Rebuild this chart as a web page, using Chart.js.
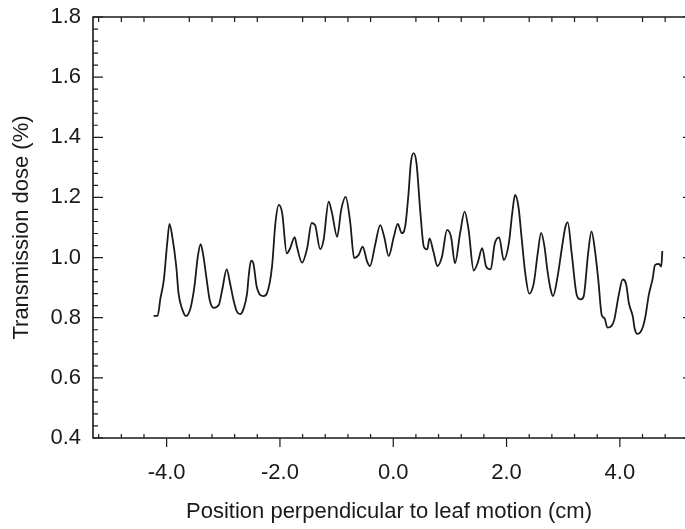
<!DOCTYPE html>
<html>
<head>
<meta charset="utf-8">
<script src="https://cdn.jsdelivr.net/npm/chart.js@4.4.1/dist/chart.umd.min.js"></script>
<style>
  html, body { margin: 0; padding: 0; background: #fff; overflow: hidden; }
  canvas { display: block; }
</style>
</head>
<body>
<canvas id="doseChart" width="685" height="529"></canvas>
<script>
// position perpendicular to leaf motion (cm)
const positions = [-4.23,-4.16,-4.11,-4.05,-3.99,-3.95,-3.90,-3.83,-3.79,-3.73,
  -3.66,-3.58,-3.51,-3.45,-3.40,-3.35,-3.30,-3.24,-3.17,-3.08,
  -3.02,-2.94,-2.88,-2.82,-2.76,-2.70,-2.64,-2.58,-2.55,-2.51,
  -2.47,-2.41,-2.29,-2.23,-2.14,-2.08,-2.02,-1.96,-1.88,-1.82,
  -1.74,-1.70,-1.61,-1.52,-1.44,-1.38,-1.29,-1.23,-1.14,-1.08,
  -0.99,-0.92,-0.84,-0.76,-0.69,-0.61,-0.54,-0.46,-0.41,-0.32,
  -0.23,-0.16,-0.08,0.01,0.08,0.15,0.21,0.27,0.31,0.36,
  0.41,0.48,0.54,0.60,0.64,0.71,0.78,0.86,0.95,1.02,
  1.09,1.18,1.26,1.33,1.42,1.49,1.57,1.64,1.72,1.79,
  1.87,1.95,2.04,2.10,2.15,2.21,2.27,2.33,2.40,2.48,
  2.55,2.61,2.67,2.72,2.78,2.82,2.90,2.98,3.04,3.08,
  3.15,3.24,3.31,3.36,3.44,3.50,3.56,3.62,3.68,3.73,
  3.78,3.85,3.90,3.98,4.05,4.11,4.16,4.23,4.26,4.31,
  4.39,4.45,4.51,4.58,4.62,4.69,4.73,4.75]

// transmission dose (%)
const dose = [0.806,0.806,0.864,0.925,1.048,1.112,1.069,0.970,0.881,0.831,
  0.806,0.831,0.903,1.003,1.045,1.003,0.936,0.859,0.833,0.842,
  0.892,0.961,0.914,0.859,0.820,0.812,0.831,0.881,0.942,0.990,
  0.981,0.903,0.872,0.881,0.970,1.115,1.175,1.147,1.014,1.031,
  1.068,1.036,0.983,1.031,1.115,1.108,1.028,1.058,1.186,1.147,
  1.069,1.158,1.202,1.118,0.998,1.009,1.036,0.986,0.972,1.042,
  1.108,1.069,1.005,1.069,1.112,1.081,1.103,1.214,1.314,1.347,
  1.314,1.147,1.036,1.027,1.064,1.019,0.972,1.003,1.092,1.069,
  0.981,1.081,1.153,1.092,0.957,0.982,1.031,0.970,0.961,1.045,
  1.067,0.992,1.047,1.147,1.208,1.169,1.058,0.948,0.880,0.914,
  1.014,1.082,1.036,0.959,0.892,0.872,0.936,1.036,1.103,1.117,
  1.014,0.875,0.861,0.870,1.014,1.087,1.025,0.925,0.809,0.798,
  0.767,0.772,0.792,0.875,0.927,0.912,0.848,0.803,0.765,0.746,
  0.761,0.803,0.875,0.931,0.975,0.979,0.970,1.022]

const xTickLabels = [-4, -2, 0, 2, 4]
const yTickLabels = [0.4, 0.6, 0.8, 1.0, 1.2, 1.4, 1.6, 1.8]

const font = 'Liberation Sans, Arial, sans-serif'
const ink = '#1a1a1a'

// sigmaplot-ish frame: majors out on x / in on y, minors inward
// right border sits just past the picture edge, only its ticks show
const framePlugin = {
    id: 'frame',
    afterDraw(chart) {
        const {ctx, chartArea: a, scales: {x, y}} = chart
        ctx.save()
        ctx.strokeStyle = ink
        ctx.lineWidth = 1.6
        ctx.beginPath()
        ctx.moveTo(a.right, a.top)
        ctx.lineTo(a.left, a.top)
        ctx.lineTo(a.left, a.bottom)
        ctx.lineTo(a.right, a.bottom)
        ctx.stroke()
        ctx.lineWidth = 1.2
        ctx.beginPath()
        for (const v of xTickLabels) {
            const px = x.getPixelForValue(v)
            ctx.moveTo(px, a.bottom)
            ctx.lineTo(px, a.bottom + 9)
        }
        for (let k = -13; k <= 13; k++) {
            if (k % 5 === 0) continue
            const px = x.getPixelForValue(k * 0.4)
            if (px <= a.left + 1 || px >= a.right - 1) continue
            ctx.moveTo(px, a.bottom)
            ctx.lineTo(px, a.bottom - 4)
            ctx.moveTo(px, a.top)
            ctx.lineTo(px, a.top + 5)
        }
        for (const v of yTickLabels) {
            const py = y.getPixelForValue(v)
            ctx.moveTo(a.left, py)
            ctx.lineTo(a.left + 10, py)
            ctx.moveTo(a.right + 3, py)
            ctx.lineTo(a.right - 2, py)
        }
        for (let k = 11; k < 45; k++) {
            if (k % 5 === 0) continue
            const py = y.getPixelForValue(k * 0.04)
            ctx.moveTo(a.left, py)
            ctx.lineTo(a.left + 5, py)
        }
        ctx.stroke()
        ctx.restore()
    }
}

new Chart(document.getElementById('doseChart'), {
    type: 'line',
    data: {
        datasets: [{
            data: positions.map((p, i) => ({x: p, y: dose[i]})),
            borderColor: ink,
            borderWidth: 1.8,
            pointRadius: 0,
            cubicInterpolationMode: 'monotone',
            fill: false
        }]
    },
    options: {
        responsive: false,
        animation: false,
        layout: {padding: {top: 17, right: 0, left: 0, bottom: 0}},
        plugins: {legend: {display: false}, tooltip: {enabled: false}},
        scales: {
            x: {
                type: 'linear',
                min: -5.3,
                max: 5.15,
                grid: {display: false, drawTicks: false},
                border: {display: false},
                afterBuildTicks: (axis) => {
                    axis.ticks = xTickLabels.map(v => ({value: v}))
                },
                afterFit: (axis) => {
                    axis.height = 91
                    axis.paddingLeft = 0
                    axis.paddingRight = 0
                },
                ticks: {
                    padding: 22,
                    color: ink,
                    font: {family: font, size: 22},
                    maxRotation: 0,
                    callback: (v) => Number(v).toFixed(1)
                },
                title: {
                    display: true,
                    text: 'Position perpendicular to leaf motion (cm)',
                    color: ink,
                    font: {family: font, size: 22},
                    padding: {top: 0, bottom: 4}
                }
            },
            y: {
                min: 0.4,
                max: 1.8,
                grid: {display: false, drawTicks: false},
                border: {display: false},
                afterBuildTicks: (axis) => {
                    axis.ticks = yTickLabels.map(v => ({value: v}))
                },
                afterFit: (axis) => {
                    axis.width = 93
                    axis.paddingTop = 0
                    axis.paddingBottom = 0
                },
                ticks: {
                    padding: 12,
                    color: ink,
                    font: {family: font, size: 22},
                    callback: (v) => Number(v).toFixed(1)
                },
                title: {
                    display: true,
                    text: 'Transmission dose (%)',
                    color: ink,
                    font: {family: font, size: 22},
                    padding: {top: 9, bottom: 0}
                }
            }
        }
    },
    plugins: [framePlugin]
});
</script>
</body>
</html>
